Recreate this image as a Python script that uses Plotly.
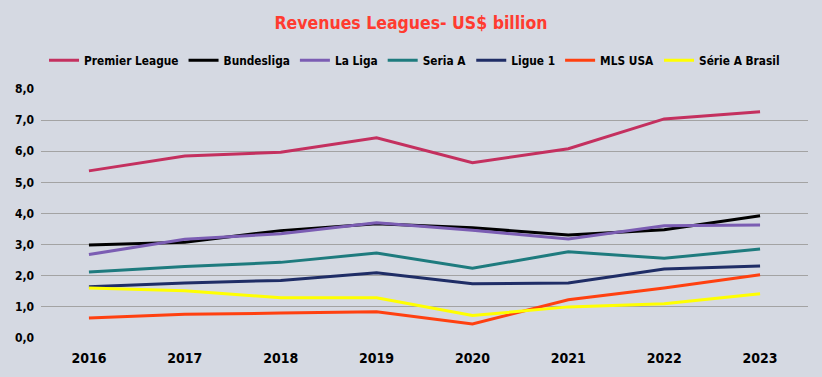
import plotly.graph_objects as go

years = ["2016", "2017", "2018", "2019", "2020", "2021", "2022", "2023"]
premier_league = [5.37, 5.85, 5.97, 6.43, 5.63, 6.08, 7.04, 7.27]
bundesliga = [2.99, 3.08, 3.45, 3.67, 3.54, 3.31, 3.48, 3.93]
la_liga = [2.68, 3.17, 3.35, 3.70, 3.46, 3.18, 3.61, 3.63]
seria_a = [2.12, 2.30, 2.43, 2.73, 2.24, 2.77, 2.56, 2.86]
ligue_1 = [1.65, 1.77, 1.85, 2.10, 1.74, 1.77, 2.22, 2.31]
mls_usa = [0.64, 0.76, 0.80, 0.84, 0.45, 1.23, 1.61, 2.03]
serie_a_brasil = [1.61, 1.52, 1.29, 1.29, 0.72, 1.00, 1.10, 1.42]

series = [
    ("Premier League", premier_league, "#C4305F"),
    ("Bundesliga", bundesliga, "#000000"),
    ("La Liga", la_liga, "#7B5DB3"),
    ("Seria A", seria_a, "#1E7B7E"),
    ("Ligue 1", ligue_1, "#1F2D66"),
    ("MLS USA", mls_usa, "#FF4010"),
    ("Série A Brasil", serie_a_brasil, "#FFFF00"),
]

FONT = "DejaVu Sans Condensed, Liberation Sans Narrow, Arial Narrow, sans-serif"
BG = "#D5D9E2"

fig = go.Figure()
for name, vals, color in series:
    fig.add_trace(go.Scatter(x=years, y=vals, name="<b>" + name + "</b>", mode="lines",
                             line=dict(color=color, width=3)))

fig.update_layout(
    width=822, height=377,
    paper_bgcolor=BG, plot_bgcolor=BG,
    margin=dict(l=41, r=14, t=89, b=39, autoexpand=False),
    separators=",.",
    title=dict(text="<b>Revenues Leagues- US$ billion</b>", x=0.5, xanchor="center",
               y=0.94, yanchor="middle",
               font=dict(family=FONT, size=17.5, color="#FF3B30")),
    legend=dict(orientation="h", x=0.487, xanchor="center", y=1.115, yanchor="middle",
                font=dict(family=FONT, size=11.8, color="#000000"),
                itemwidth=30, traceorder="normal", bgcolor="rgba(0,0,0,0)"),
    font=dict(family=FONT, color="#000000"),
    showlegend=True,
)
fig.update_xaxes(type="category", range=[-0.5, 7.5], showgrid=False, zeroline=False,
                 showline=False, ticks="",
                 tickfont=dict(family=FONT, size=14, color="#000000"),
                 ticklabelstandoff=10, tickprefix="<b>", ticksuffix="</b>")
fig.update_yaxes(range=[0, 8], dtick=1, tickformat=".1f", showgrid=True,
                 gridcolor="#A3A3A3", gridwidth=1, zeroline=False, showline=False,
                 ticks="", tickfont=dict(family=FONT, size=12, color="#000000"),
                 ticklabelstandoff=6, tickprefix="<b>", ticksuffix="</b>")

fig.write_html("out.html", config={"displayModeBar": False},
               post_script="document.body.style.margin='0';document.body.style.background='%s';" % BG)
